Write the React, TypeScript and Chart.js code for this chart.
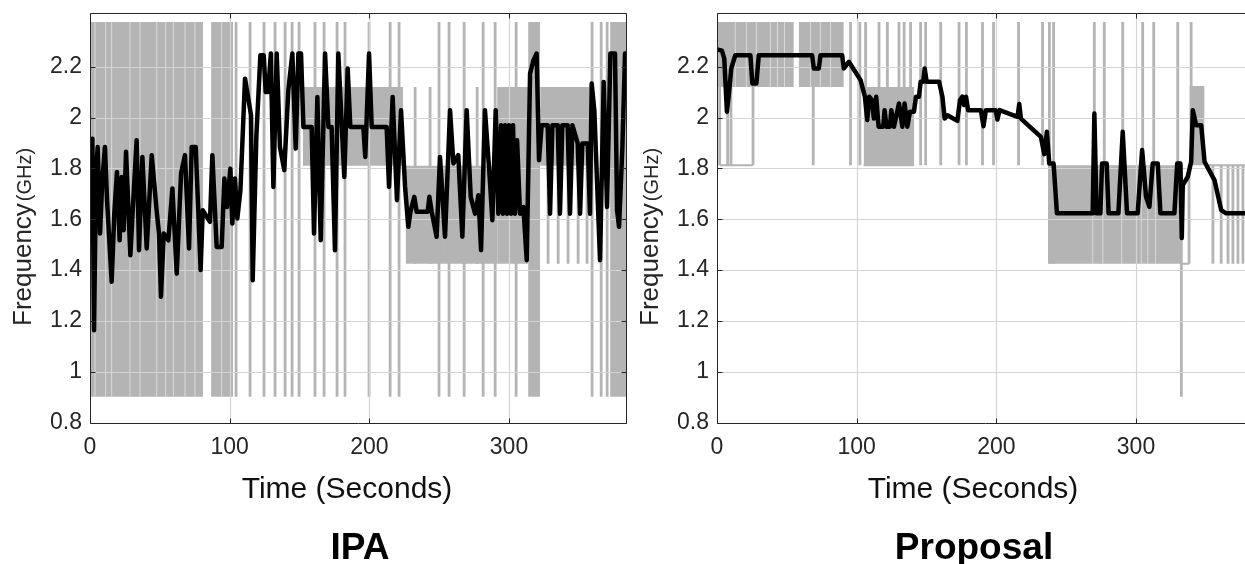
import React, { useEffect, useRef } from 'react';
import { Chart, registerables } from 'chart.js';

Chart.register(...registerables);

// ---------- shared axis data ----------
const xTicks = [0, 100, 200, 300];
const yTicks = [0.8, 1.0, 1.2, 1.4, 1.6, 1.8, 2.0, 2.2];
const xMin = 0;
const xMax = 384;
const yMin = 0.8;
const yMax = 2.41;

// ---------- IPA panel ----------
const ipaTime = [0, 0.7, 1.7, 2.9, 4.3, 5.5, 7.2, 8.8, 10.7, 12.2, 15.5, 17.4, 19.3, 21.2, 22.7, 24.1, 25.8, 28.9, 31.0, 33.4, 35.1, 37.5, 40.6, 44.2, 45.8, 47.7, 49.4, 50.8, 52.8, 56.1, 59.0, 62.1, 65.2, 68.0, 70.9, 72.8, 75.7, 79.2, 80.7, 85.9, 87.6, 90.7, 94.3, 96.2, 98.1, 100.5, 101.9, 103.8, 105.5, 107.7, 111.0, 115.3, 116.5, 119.1, 122.0, 124.4, 125.8, 127.5, 129.5, 131.3, 133.7, 136.0, 139.1, 142.0, 144.9, 147.3, 149.2, 151.1, 152.8, 158.7, 160.4, 162.8, 165.2, 168.3, 170.7, 173.0, 175.4, 177.8, 180.2, 182.1, 184.5, 186.4, 195.7, 197.1, 199.8, 201.7, 212.4, 214.1, 216.7, 219.8, 222.7, 225.6, 227.9, 229.4, 232.2, 233.9, 241.8, 243.0, 244.7, 248.2, 250.6, 254.2, 257.8, 260.2, 263.7, 266.6, 269.7, 272.6, 275.7, 278.1, 280.0, 282.8, 286.0, 288.1, 290.5, 292.4, 294.3, 295.7, 297.2, 298.6, 300.0, 301.5, 302.9, 304.3, 305.8, 307.9, 310.3, 312.7, 315.1, 317.5, 319.8, 321.5, 323.4, 327.7, 329.4, 331.1, 334.9, 336.5, 338.2, 342.0, 343.7, 345.4, 349.2, 350.9, 352.5, 356.4, 358.0, 359.2, 361.1, 365.2, 367.8, 370.2, 372.6, 375.9, 377.4, 378.8, 381.2, 383.1, 384];
const ipaFreq = [1.825, 1.688, 1.917, 1.163, 1.78, 1.884, 1.544, 1.753, 1.884, 1.675, 1.354, 1.622, 1.786, 1.517, 1.766, 1.557, 1.865, 1.458, 1.675, 1.911, 1.478, 1.845, 1.485, 1.852, 1.753, 1.635, 1.544, 1.295, 1.544, 1.517, 1.721, 1.386, 1.78, 1.852, 1.485, 1.884, 1.884, 1.40, 1.635, 1.59, 1.852, 1.491, 1.491, 1.76, 1.648, 1.799, 1.583, 1.76, 1.603, 1.714, 2.153, 2.009, 1.36, 1.924, 2.245, 2.245, 2.10, 2.10, 2.252, 1.727, 2.252, 1.884, 1.793, 2.107, 2.252, 1.878, 2.252, 2.252, 1.963, 1.963, 1.544, 2.081, 1.517, 2.252, 1.963, 1.963, 1.478, 2.252, 1.976, 1.766, 2.193, 1.963, 1.963, 1.845, 2.252, 1.963, 1.963, 1.727, 2.081, 1.675, 2.029, 1.727, 1.570, 1.629, 1.688, 1.629, 1.629, 1.688, 1.629, 1.531, 1.845, 1.531, 2.029, 1.819, 1.852, 1.531, 2.029, 1.688, 1.622, 1.694, 1.478, 2.029, 1.780, 1.596, 2.029, 1.622, 1.970, 1.622, 1.970, 1.622, 1.970, 1.622, 1.970, 1.622, 1.911, 1.622, 1.648, 1.439, 2.173, 2.225, 2.252, 1.832, 1.970, 1.970, 1.622, 1.970, 1.970, 1.622, 1.970, 1.970, 1.622, 1.970, 1.898, 1.622, 1.898, 1.898, 1.622, 2.134, 2.029, 1.439, 2.140, 1.648, 2.252, 2.252, 1.635, 1.570, 1.884, 2.252, 2.252];

const ipaBandStart = [0, 86.7, 152.5, 226.0, 291.5, 313.7, 322.3, 372.4];
const ipaBandEnd = [80.9, 102.4, 224.1, 291.5, 313.7, 322.3, 357.5, 384];
const ipaBandLow = [0.902, 0.902, 1.81, 1.425, 1.425, 0.902, 1.81, 0.902];
const ipaBandHigh = [2.376, 2.376, 2.12, 1.81, 2.12, 2.376, 2.12, 2.376];

const ipaSpikeTime = [104.6, 114.6, 124.6, 132.5, 139.7, 144.7, 149.7, 161.1, 167.6, 176.9, 182.6, 199.8, 214.9, 221.3, 249.9, 257.1, 267.9, 281.5, 290.1, 305.1, 359.5, 366.0, 370.3, 232.8, 243.5, 277.2, 328.0, 335.2, 342.3, 349.5, 355.9];
const ipaSpikeLow = [0.902, 0.902, 0.902, 0.902, 0.902, 0.902, 0.902, 0.902, 0.902, 0.902, 0.902, 0.902, 0.902, 0.902, 0.902, 0.902, 0.902, 0.902, 0.902, 0.902, 0.902, 0.902, 0.902, 1.425, 1.425, 1.425, 1.425, 1.425, 1.425, 1.425, 1.425];
const ipaSpikeHigh = [2.376, 2.376, 2.376, 2.376, 2.376, 2.376, 2.376, 2.376, 2.376, 2.376, 2.376, 2.376, 2.376, 2.376, 2.376, 2.376, 2.376, 2.376, 2.376, 2.376, 2.376, 2.376, 2.376, 2.12, 2.12, 2.12, 1.81, 1.81, 1.81, 1.81, 1.81];

const ipaGapTime = [3.6, 11.2, 15.5, 28.6, 35.8, 47.8, 54.2, 59.7, 68.0, 75.2, 94.3];
const ipaGapLow = [0.902, 0.902, 0.902, 0.902, 0.902, 0.902, 0.902, 0.902, 0.902, 0.902, 0.902];
const ipaGapHigh = [2.376, 2.376, 2.376, 2.376, 2.376, 2.376, 2.376, 2.376, 2.376, 2.376, 2.376];

const ipaFlatStart: number[] = [];
const ipaFlatEnd: number[] = [];
const ipaFlatLevel: number[] = [];

// ---------- Proposal panel ----------
const propTime = [0, 3.5, 5.2, 7.1, 8.8, 10.2, 13.1, 23.9, 25.3, 28.2, 29.9, 68.1, 69.3, 72.9, 74.1, 89.6, 90.8, 94.4, 97.5, 102.8, 105.9, 107.6, 109.0, 110.9, 112.3, 114.0, 115.7, 119.0, 120.0, 121.4, 123.8, 124.8, 126.7, 130.3, 132.7, 134.3, 136.3, 138.2, 141.0, 142.5, 144.6, 145.8, 147.7, 148.7, 150.1, 159.0, 161.4, 163.0, 165.0, 172.1, 174.0, 175.7, 176.9, 178.3, 179.8, 188.9, 190.8, 192.5, 199.6, 200.8, 202.3, 215.2, 216.4, 217.6, 231.9, 234.3, 236.2, 237.9, 241.0, 243.4, 269.0, 270.2, 271.8, 274.5, 275.7, 279.0, 280.4, 287.4, 290.5, 293.6, 301.2, 304.4, 307.2, 309.6, 312.0, 315.6, 317.5, 327.5, 329.5, 331.8, 332.8, 333.5, 337.1, 339.5, 340.7, 343.1, 346.7, 349.1, 356.2, 361.0, 364.6, 384];
const propFreq = [2.268, 2.263, 2.232, 2.023, 2.108, 2.193, 2.245, 2.245, 2.134, 2.134, 2.245, 2.245, 2.193, 2.193, 2.245, 2.245, 2.193, 2.219, 2.193, 2.147, 2.082, 1.990, 2.082, 2.069, 1.996, 2.082, 1.964, 1.964, 2.029, 1.964, 1.964, 2.029, 1.964, 2.055, 1.964, 2.055, 1.964, 2.023, 2.023, 2.082, 2.082, 2.141, 2.141, 2.193, 2.141, 2.141, 2.082, 1.996, 2.009, 1.987, 2.069, 2.082, 2.049, 2.082, 2.029, 2.029, 1.966, 2.029, 2.029, 1.992, 2.029, 2.003, 2.053, 1.996, 1.924, 1.856, 1.944, 1.819, 1.819, 1.623, 1.623, 2.016, 1.623, 1.623, 1.819, 1.819, 1.623, 1.623, 1.944, 1.623, 1.623, 1.872, 1.688, 1.649, 1.819, 1.819, 1.623, 1.623, 1.819, 1.819, 1.526, 1.734, 1.767, 1.826, 2.029, 1.970, 1.970, 1.826, 1.754, 1.636, 1.623, 1.623];

const propBandStart = [0, 58.5, 105.0, 238.0, 338.3];
const propBandEnd = [55.0, 90.8, 141.2, 332.5, 349.1];
const propBandLow = [2.12, 2.12, 1.81, 1.425, 1.812];
const propBandHigh = [2.376, 2.376, 2.12, 1.812, 2.124];

const propSpikeTime = [1.9, 7.6, 10.0, 25.8, 68.9, 95.6, 102.3, 106.4, 116.0, 122.0, 130.3, 134.0, 138.6, 145.8, 149.4, 160.2, 173.3, 178.6, 190.1, 198.0, 215.9, 233.1, 238.0, 241.0, 270.2, 277.3, 290.5, 304.8, 312.7, 329.9, 339.5, 332.5, 338.0, 355.1, 361.0, 365.9, 369.4, 373.0, 376.6, 380.5];
const propSpikeLow = [1.812, 1.812, 1.812, 1.812, 1.812, 1.812, 1.812, 1.812, 1.812, 1.812, 1.812, 1.812, 1.812, 1.812, 1.812, 1.812, 1.812, 1.812, 1.812, 1.812, 1.812, 1.812, 1.425, 1.425, 1.812, 1.812, 1.812, 1.812, 1.812, 1.812, 1.812, 0.902, 1.425, 1.425, 1.425, 1.425, 1.425, 1.425, 1.425, 1.425];
const propSpikeHigh = [2.376, 2.376, 2.376, 2.376, 2.376, 2.376, 2.376, 2.376, 2.376, 2.376, 2.376, 2.376, 2.376, 2.376, 2.376, 2.376, 2.376, 2.376, 2.376, 2.376, 2.376, 2.376, 2.376, 2.376, 2.376, 2.376, 2.376, 2.376, 2.376, 2.376, 2.376, 1.812, 1.812, 1.812, 1.812, 1.812, 1.812, 1.812, 1.812, 1.812];

const propGapTime = [13.1, 21.0, 28.2, 38.2, 43.3, 48.3, 67.0, 74.0, 81.3, 269.0, 276.3, 289.8, 303.8, 308.5, 314.0];
const propGapLow = [2.12, 2.12, 2.12, 2.12, 2.12, 2.12, 2.12, 2.12, 2.12, 1.425, 1.425, 1.425, 1.425, 1.425, 1.425];
const propGapHigh = [2.376, 2.376, 2.376, 2.376, 2.376, 2.376, 2.376, 2.376, 2.376, 1.812, 1.812, 1.812, 1.812, 1.812, 1.812];

const propFlatStart = [1.9, 105.0, 332.5, 349.1];
const propFlatEnd = [25.8, 141.2, 338.0, 384];
const propFlatLevel = [1.812, 1.812, 1.425, 1.812];

// ---------- styling ----------
const GRAY = '#b4b4b4';
const AXIS = '#262626';
const GRID = '#d4d4d4';
const FONT = '"Liberation Sans", Arial, Helvetica, sans-serif';
const CANVAS_W = 640;
const CANVAS_H = 564;

type Panel = {
  title: string;
  titleX: number;
  xLabelX: number;
  time: number[];
  freq: number[];
  bandStart: number[];
  bandEnd: number[];
  bandLow: number[];
  bandHigh: number[];
  spikeTime: number[];
  spikeLow: number[];
  spikeHigh: number[];
  gapTime: number[];
  gapLow: number[];
  gapHigh: number[];
  flatStart: number[];
  flatEnd: number[];
  flatLevel: number[];
};

const panels: Panel[] = [
  {
    title: 'IPA', titleX: 360, xLabelX: 347,
    time: ipaTime, freq: ipaFreq,
    bandStart: ipaBandStart, bandEnd: ipaBandEnd, bandLow: ipaBandLow, bandHigh: ipaBandHigh,
    spikeTime: ipaSpikeTime, spikeLow: ipaSpikeLow, spikeHigh: ipaSpikeHigh,
    gapTime: ipaGapTime, gapLow: ipaGapLow, gapHigh: ipaGapHigh,
    flatStart: ipaFlatStart, flatEnd: ipaFlatEnd, flatLevel: ipaFlatLevel,
  },
  {
    title: 'Proposal', titleX: 347, xLabelX: 346,
    time: propTime, freq: propFreq,
    bandStart: propBandStart, bandEnd: propBandEnd, bandLow: propBandLow, bandHigh: propBandHigh,
    spikeTime: propSpikeTime, spikeLow: propSpikeLow, spikeHigh: propSpikeHigh,
    gapTime: propGapTime, gapLow: propGapLow, gapHigh: propGapHigh,
    flatStart: propFlatStart, flatEnd: propFlatEnd, flatLevel: propFlatLevel,
  },
];

function verticals(t: number[], lo: number[], hi: number[]) {
  return t.flatMap((v, i) => [
    { x: v, y: lo[i] },
    { x: v, y: hi[i] },
    { x: v, y: null },
  ]);
}

function horizontals(s: number[], e: number[], lvl: number[]) {
  return s.flatMap((v, i) => [
    { x: v, y: lvl[i] },
    { x: e[i], y: lvl[i] },
    { x: e[i], y: null },
  ]);
}

function buildDatasets(p: Panel) {
  const ds: any[] = [];
  ds.push({
    label: 'avg',
    data: p.time.map((t, i) => ({ x: t, y: p.freq[i] })),
    borderColor: '#000000',
    borderWidth: 4.5,
    borderJoinStyle: 'round',
    borderCapStyle: 'round',
    order: 0,
  });
  ds.push({
    label: 'spikes',
    data: verticals(p.spikeTime, p.spikeLow, p.spikeHigh),
    borderColor: GRAY,
    borderWidth: 2.8,
    borderCapStyle: 'butt',
    spanGaps: false,
    order: 1,
  });
  ds.push({
    label: 'flats',
    data: horizontals(p.flatStart, p.flatEnd, p.flatLevel),
    borderColor: GRAY,
    borderWidth: 2,
    spanGaps: false,
    order: 1,
  });
  ds.push({
    label: 'gaps',
    data: verticals(p.gapTime, p.gapLow, p.gapHigh),
    borderColor: 'rgba(255,255,255,0.5)',
    borderWidth: 1,
    spanGaps: false,
    order: 2,
  });
  p.bandStart.forEach((s, i) => {
    ds.push({
      label: 'band',
      data: [
        { x: s, y: p.bandHigh[i] },
        { x: p.bandEnd[i], y: p.bandHigh[i] },
      ],
      borderColor: 'rgba(0,0,0,0)',
      borderWidth: 1,
      backgroundColor: GRAY,
      fill: { value: p.bandLow[i] },
      order: 3,
    });
  });
  return ds;
}

function makeFramePlugin(p: Panel) {
  return {
    id: 'frame',
    beforeDatasetDraw(chart: any, args: any) {
      if (chart.data.datasets[args.index].label !== 'avg') return;
      const { ctx, chartArea: a, scales } = chart;
      ctx.save();
      ctx.strokeStyle = GRID;
      ctx.lineWidth = 1.2;
      ctx.beginPath();
      xTicks.forEach((v) => {
        if (v === xMin) return;
        const x = Math.round(scales.x.getPixelForValue(v)) + 0.5;
        ctx.moveTo(x, a.top);
        ctx.lineTo(x, a.bottom);
      });
      yTicks.forEach((v) => {
        if (v === yMin) return;
        const y = Math.round(scales.y.getPixelForValue(v)) + 0.5;
        ctx.moveTo(a.left, y);
        ctx.lineTo(a.right, y);
      });
      ctx.stroke();
      ctx.restore();
    },
    afterDraw(chart: any) {
      const { ctx, chartArea: a, scales } = chart;
      ctx.save();
      ctx.strokeStyle = AXIS;
      ctx.lineWidth = 1;
      const L = Math.round(a.left) + 0.5;
      const R = Math.round(a.right) + 0.5;
      const T = Math.round(a.top) + 0.5;
      const B = Math.round(a.bottom) + 0.5;
      ctx.beginPath();
      ctx.moveTo(L, T);
      ctx.lineTo(R, T);
      ctx.lineTo(R, B);
      ctx.lineTo(L, B);
      ctx.closePath();
      const tl = 5;
      xTicks.forEach((v) => {
        const x = Math.round(scales.x.getPixelForValue(v)) + 0.5;
        ctx.moveTo(x, B);
        ctx.lineTo(x, B - tl);
        ctx.moveTo(x, T);
        ctx.lineTo(x, T + tl);
      });
      yTicks.forEach((v) => {
        const y = Math.round(scales.y.getPixelForValue(v)) + 0.5;
        ctx.moveTo(L, y);
        ctx.lineTo(L + tl, y);
        ctx.moveTo(R, y);
        ctx.lineTo(R - tl, y);
      });
      ctx.stroke();

      // y axis title
      ctx.fillStyle = AXIS;
      ctx.translate(31, 326);
      ctx.rotate(-Math.PI / 2);
      ctx.textAlign = 'left';
      ctx.textBaseline = 'alphabetic';
      ctx.font = `26px ${FONT}`;
      ctx.fillText('Frequency', 0, 0);
      const w = ctx.measureText('Frequency').width;
      ctx.font = `20px ${FONT}`;
      ctx.fillText('(GHz)', w + 2, 0);
      ctx.setTransform(1, 0, 0, 1, 0, 0);

      // x axis title
      ctx.textAlign = 'center';
      ctx.font = `30px ${FONT}`;
      ctx.fillStyle = '#111111';
      ctx.fillText('Time (Seconds)', p.xLabelX, 498);

      // panel caption
      ctx.font = `bold 37px ${FONT}`;
      ctx.fillStyle = '#000000';
      ctx.fillText(p.title, p.titleX, 559);
      ctx.restore();
    },
  };
}

function PanelChart({ panel, left }: { panel: Panel; left: number }) {
  const ref = useRef<HTMLCanvasElement | null>(null);
  useEffect(() => {
    if (!ref.current) return;
    const tickFont = { family: FONT, size: 23 };
    const chart = new Chart(ref.current, {
      type: 'line',
      data: { datasets: buildDatasets(panel) },
      options: {
        animation: false,
        responsive: false,
        events: [],
        layout: { padding: { left: 0, right: CANVAS_W - 626.3, top: 13.3, bottom: 0 } },
        elements: { point: { radius: 0 }, line: { tension: 0 } },
        plugins: { legend: { display: false }, tooltip: { enabled: false } },
        scales: {
          x: {
            type: 'linear',
            min: xMin,
            max: xMax,
            grid: { display: false, drawTicks: false },
            border: { display: false },
            ticks: { font: tickFont, color: AXIS, padding: 11, maxRotation: 0, autoSkip: false },
            afterBuildTicks: (s: any) => {
              s.ticks = xTicks.map((v) => ({ value: v }));
            },
            afterFit: (s: any) => {
              s.height = CANVAS_H - 422.6;
              s.paddingLeft = 0;
              s.paddingRight = 0;
            },
          },
          y: {
            type: 'linear',
            min: yMin,
            max: yMax,
            grid: { display: false, drawTicks: false },
            border: { display: false },
            ticks: {
              font: tickFont,
              color: AXIS,
              padding: 8,
              autoSkip: false,
              callback: (v: any) => String(Math.round(Number(v) * 10) / 10),
            },
            afterBuildTicks: (s: any) => {
              s.ticks = yTicks.map((v) => ({ value: v }));
            },
            afterFit: (s: any) => {
              s.width = 90;
              s.paddingTop = 0;
              s.paddingBottom = 0;
            },
          },
        },
      } as any,
      plugins: [makeFramePlugin(panel)],
    });
    return () => chart.destroy();
  }, [panel]);
  return (
    <canvas
      ref={ref}
      width={CANVAS_W}
      height={CANVAS_H}
      style={{ position: 'absolute', left, top: 0, width: CANVAS_W, height: CANVAS_H, display: 'block' }}
    />
  );
}

export default function App() {
  return (
    <div
      style={{
        position: 'fixed',
        left: 0,
        top: 0,
        width: 1245,
        height: 564,
        overflow: 'hidden',
        background: '#ffffff',
      }}
    >
      <PanelChart panel={panels[0]} left={0} />
      <PanelChart panel={panels[1]} left={627} />
    </div>
  );
}
